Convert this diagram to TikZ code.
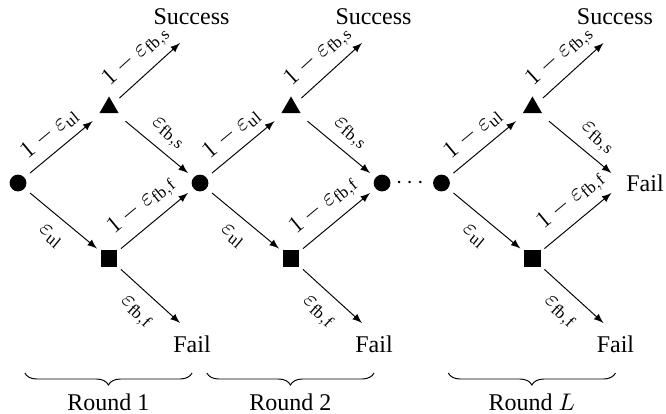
\documentclass[tikz,border=0pt]{standalone}
\usepackage{amssymb}
\usepackage{amsmath}
\usepackage{fontspec}
\setmainfont{Liberation Serif}
\usepackage{tikz}
\usetikzlibrary{calc,arrows,shapes,positioning,decorations.pathreplacing}

\begin{document}
\begin{tikzpicture}[>=latex]

\tikzset{dot/.style={circle, fill=black, inner sep=0pt, minimum size=7pt, outer sep=3pt},
tri/.style={regular polygon, regular polygon sides=3, fill=black, inner sep=0pt, minimum size=9.2pt, outer sep=3.4pt},
sq/.style={rectangle, fill=black, inner sep=0pt, minimum size=7pt, outer sep=1.5pt},
%brace under each round
rbrace/.style={decorate, decoration={brace, mirror, amplitude=5pt}}}

\useasboundingbox (-0.264,-3.369) rectangle (9.492,2.681);

\foreach \n/\x in {c1/0, c2/2.666, c3/5.333, c4/6.203}
\node[dot] (\n) at (\x,0) {};

\coordinate (c5) at (8.869,0);

\node (dots) at ($(c3)!0.5!(c4)$) {$\cdots$};

\foreach \r/\o/\nx/\x/\sh/\rl in {1/c1/c2/0/0pt/1, 2/c2/c3/2.666/0pt/2, 3/c4/c5/6.203/6.5pt/$L$} {
  \node[tri] (t\r) at (\x+1.333,1.106) {};
  \node[sq] (s\r) at (\x+1.333,-1.106) {};
  \coordinate (u\r) at (\x+2.373,2.051);
  \coordinate (f\r) at (\x+2.373,-2.051);
  \node (su\r) at (\x+2.541,2.432) {Success};
  \node (fa\r) at (\x+2.549,-2.358) {Fail};

  \draw[->] (\o) -- (t\r) node[midway, above, sloped] {$1-\varepsilon_{\mathrm{ul}}$};
  \draw[->] (\o) -- (s\r) node[midway, below=2pt, sloped] {$\varepsilon_{\mathrm{ul}}$};
  \draw[->] (t\r) -- (u\r) node[midway, above, sloped] {$1-\varepsilon_{\mathrm{fb,s}}$};
  \draw[->, shorten >=\sh] (t\r) -- (\nx) node[midway, above, sloped] {$\varepsilon_{\mathrm{fb,s}}$};
  \draw[->, shorten >=\sh] (s\r) -- (\nx) node[midway, above, sloped] {$1-\varepsilon_{\mathrm{fb,f}}$};
  \draw[->] (s\r) -- (f\r) node[midway, below=2pt, sloped] {$\varepsilon_{\mathrm{fb,f}}$};

  \draw[rbrace] ($(\o)+(0.1,-2.783)$) -- ($(\o)+(2.549,-2.783)$) node[midway, below=5pt] (rd\r) {Round \rl};
}

\node[right, inner sep=1pt] (failR) at (c5) {Fail};

\end{tikzpicture}
\end{document}
